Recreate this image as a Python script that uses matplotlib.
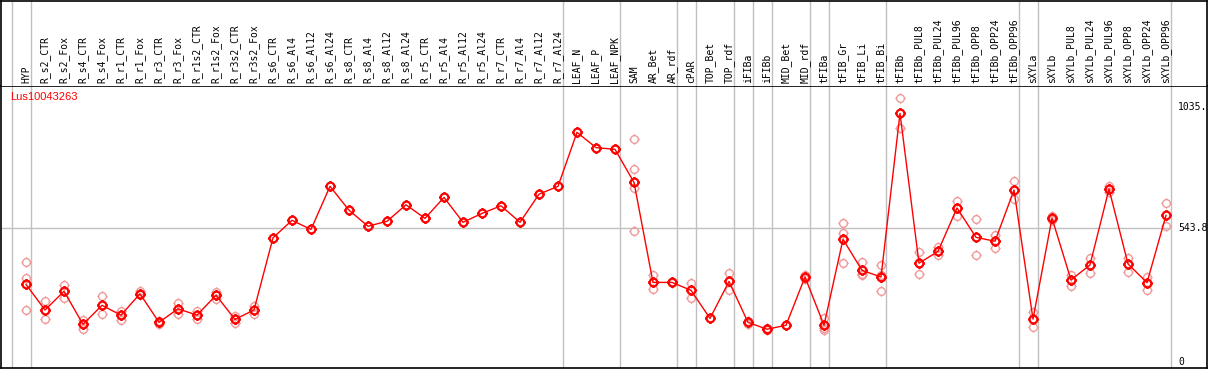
import matplotlib
matplotlib.use("Agg")
import matplotlib.pyplot as plt
from matplotlib.path import Path

# sample names along the top
samples = ['HYP',
           'R_s2_CTR', 'R_s2_Fox', 'R_s4_CTR', 'R_s4_Fox', 'R_r1_CTR', 'R_r1_Fox',
           'R_r3_CTR', 'R_r3_Fox', 'R_r1s2_CTR', 'R_r1s2_Fox', 'R_r3s2_CTR', 'R_r3s2_Fox',
           'R_s6_CTR', 'R_s6_Al4', 'R_s6_Al12', 'R_s6_Al24',
           'R_s8_CTR', 'R_s8_Al4', 'R_s8_Al12', 'R_s8_Al24',
           'R_r5_CTR', 'R_r5_Al4', 'R_r5_Al12', 'R_r5_Al24',
           'R_r7_CTR', 'R_r7_Al4', 'R_r7_Al12', 'R_r7_Al24',
           'LEAF_N', 'LEAF_P', 'LEAF_NPK',
           'SAM', 'AR_Bet', 'AR_rdf', 'cPAR', 'TOP_Bet', 'TOP_rdf', 'iFIBa', 'iFIBb',
           'MID_Bet', 'MID_rdf', 'tFIBa', 'tFIB_Gr', 'tFIB_Li', 'tFIB_Bi',
           'tFIBb', 'tFIBb_PUL8', 'tFIBb_PUL24', 'tFIBb_PUL96',
           'tFIBb_OPP8', 'tFIBb_OPP24', 'tFIBb_OPP96',
           'sXYLa', 'sXYLb', 'sXYLb_PUL8', 'sXYLb_PUL24', 'sXYLb_PUL96',
           'sXYLb_OPP8', 'sXYLb_OPP24', 'sXYLb_OPP96']

# mean expression per sample
means = [315,
         211, 287, 153, 230, 190, 277, 161, 216, 190, 271, 173, 211,
         504, 575, 538, 713, 616, 551, 571, 638, 583, 668, 567, 603, 634, 567, 681, 713,
         932, 870, 863,
         729, 323, 323, 291, 177, 327, 161, 133, 149, 345, 149, 498, 372, 345,
         1009, 401, 449, 625, 506, 490, 698,
         174, 584, 333, 394, 702, 398, 322, 595]

# individual replicates
reps = [[407, 342, 211],
        [248, 173], [314, 261], [170, 134], [268, 194], [207, 169], [287, 272],
        [166, 156], [239, 196], [207, 173], [285, 254], [188, 157], [226, 196],
        [], [], [], [], [], [], [], [], [], [], [], [], [], [], [], [],
        [], [], [],
        [904, 782, 705, 532], [353, 295], [326, 320], [321, 259], [], [361, 293],
        [166, 156], [137, 129], [], [353, 337], [177, 130, 140],
        [563, 522, 403], [405, 357, 355], [394, 288, 353],
        [1070, 951], [445, 356], [468, 435], [652, 594], [579, 433], [515, 464], [733, 660],
        [202, 141], [592, 576], [353, 310], [421, 360], [714, 689], [423, 366], [346, 292],
        [644, 552]]

# last sample index of each group (vertical separators)
group_ends = [-1, 0, 28, 31, 34, 35, 37, 38, 39, 41, 42, 45, 52, 53, 60]

ytick_vals = [1035, 543.8, 0]
ytick_labels = ['1035.', '543.8', '0']
gene = 'Lus10043263'

W, H = 1209, 370
L, R, T, B = 1, 1207, 86, 368      # plot box in pixels
x0, dx = 26, 19                    # pixel of first sample, spacing
y0, k = 362, 0.24641               # pixel of zero, pixels per unit

fig = plt.figure(figsize=(W / 100, H / 100), dpi=100)
ax = fig.add_axes([L / W, (H - B) / H, (R - L) / W, (B - T) / H])
hx = fig.add_axes([L / W, (H - T) / H, (R - L) / W, (T - 0.5) / H])

xlim = ((L - x0) / dx, (R - x0) / dx)
for a in (ax, hx):
    a.set_xlim(xlim)
    a.set_xticks([])
    a.set_yticks([])
    for s in a.spines.values():
        s.set_color('black')
        s.set_linewidth(1.2)
ax.set_ylim(-(B - y0) / k, (y0 - T) / k)
hx.set_ylim(0, T)
hx.spines['bottom'].set_visible(False)

off = 5 / dx
for g in group_ends:
    ax.axvline(g + off, color='#c0c0c0', lw=1, zorder=0)
    hx.axvline(g + off, color='#c0c0c0', lw=1, zorder=0)
ax.hlines(ytick_vals[1], xlim[0], group_ends[-1] + off, color='#c0c0c0', lw=1, zorder=0)

# marker: circle with four little ticks
circ = Path.unit_circle()
tk = Path([(0, 1), (0, 1.35), (0, -1), (0, -1.35), (1, 0), (1.35, 0), (-1, 0), (-1.35, 0)],
          [Path.MOVETO, Path.LINETO] * 4)
gear = Path.make_compound_path(circ, tk)

xs = list(range(len(samples)))
for i, rr in enumerate(reps):
    if rr:
        ax.plot([i] * len(rr), rr, linestyle='none', marker=gear, markersize=7.5,
                markerfacecolor='none', markeredgecolor='#f09a9a', markeredgewidth=1.0, zorder=2)
ax.plot(xs, means, color='red', lw=1, zorder=3)
ax.plot(xs, means, linestyle='none', marker=gear, markersize=7.5,
        markerfacecolor='none', markeredgecolor='red', markeredgewidth=1.6, zorder=4)

for v, lab in zip(ytick_vals, ytick_labels):
    ax.text((1178 - x0) / dx, v, lab, ha='left', va='center',
            family='DejaVu Sans Mono', fontsize=7, color='black')

for i, name in enumerate(samples):
    hx.text(i, T - 83, name, rotation=90, ha='center', va='bottom',
            family='DejaVu Sans Mono', fontsize=7, color='black')

fig.text(10 / W, 1 - 97.5 / H, gene, ha='left', va='center',
         family='Liberation Sans', fontsize=8, color='red')

fig.savefig('out.png', dpi=100)
